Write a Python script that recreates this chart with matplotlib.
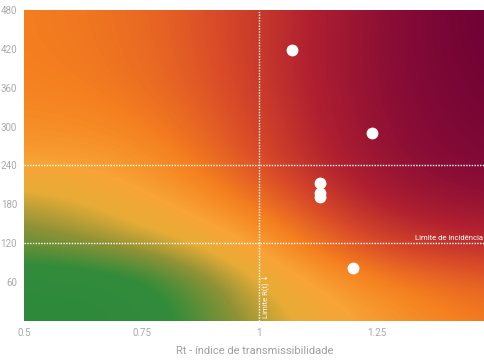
import numpy as np
import matplotlib
matplotlib.use("Agg")
import matplotlib.pyplot as plt
from matplotlib.colors import LinearSegmentedColormap

plt.rcParams['font.family'] = ['Roboto', 'DejaVu Sans']

# Data
rt_values = [1.07, 1.24, 1.13, 1.13, 1.13, 1.20]
incidence_values = [418, 290, 213, 197, 191, 81]
x_ticks = [0.5, 0.75, 1, 1.25]
x_tick_labels = ["0.5", "0.75", "1", "1.25"]
y_ticks = [60, 120, 180, 240, 300, 360, 420, 480]
rt_limit = 1
incidence_limits = [120, 240]

xmin, xmax = 0.5, 1.48
ymin, ymax = 0, 480

# background risk levels (rows: incidence 0..480 step 60, cols: Rt low->high)
risk_levels = np.array([
    [0.00, 0.00, 0.26, 0.42, 0.52],
    [0.02, 0.03, 0.32, 0.48, 0.58],
    [0.17, 0.26, 0.40, 0.64, 0.72],
    [0.25, 0.37, 0.50, 0.75, 0.84],
    [0.40, 0.42, 0.60, 0.82, 0.92],
    [0.46, 0.48, 0.63, 0.84, 0.95],
    [0.49, 0.52, 0.65, 0.85, 0.97],
    [0.50, 0.53, 0.66, 0.85, 0.99],
    [0.50, 0.54, 0.66, 0.84, 1.00],
])

fig = plt.figure(figsize=(4.85, 3.6), dpi=100)
ax = fig.add_axes([0.0495, 0.1086, 0.9505, 0.8634])

cmap = LinearSegmentedColormap.from_list(
    "risk",
    [(0.0, "#2e8a3c"), (0.1, "#338c3a"), (0.22, "#8e9236"), (0.32, "#e8ac36"),
     (0.4, "#f8a436"), (0.5, "#f5801f"), (0.62, "#da4c28"), (0.75, "#b02030"),
     (0.88, "#880c36"), (1.0, "#6a0034")])
nr, nc = risk_levels.shape
dx = (xmax - xmin) / (nc - 1)
dy = (ymax - ymin) / (nr - 1)
ax.imshow(risk_levels, extent=[xmin - dx / 2, xmax + dx / 2, ymin - dy / 2, ymax + dy / 2],
          origin="lower", aspect="auto", cmap=cmap, vmin=0, vmax=1,
          interpolation="bicubic", zorder=0)

# limit lines
ax.axvline(rt_limit, color="white", lw=1, ls=(0, (1, 1)), zorder=2)
for yl in incidence_limits:
    ax.axhline(yl, color="white", lw=1, ls=(0, (1, 1)), zorder=2)
ax.text(xmax - 0.005, 124, "Limite de incidência", color="white", fontsize=5.5,
        ha="right", va="bottom", zorder=3)
ax.text(rt_limit + 0.007, 5, "Limite R(t) ↓", color="white", fontsize=5.5,
        rotation=90, ha="left", va="bottom", zorder=3)

# points
ax.plot(rt_values, incidence_values, "o", color="white", ms=7.5, mec="white", zorder=4)

ax.set_xlim(xmin, xmax)
ax.set_ylim(ymin, ymax)
ax.set_xticks(x_ticks)
ax.set_xticklabels(x_tick_labels)
ax.set_yticks(y_ticks)
for s in ax.spines.values():
    s.set_visible(False)
ax.tick_params(length=0, colors="#a8a8a8", labelsize=7, pad=5)
ax.set_xlabel("Rt - índice de transmissibilidade", color="#a0a0a0", fontsize=8, labelpad=6)

fig.savefig("out.png", dpi=100)
